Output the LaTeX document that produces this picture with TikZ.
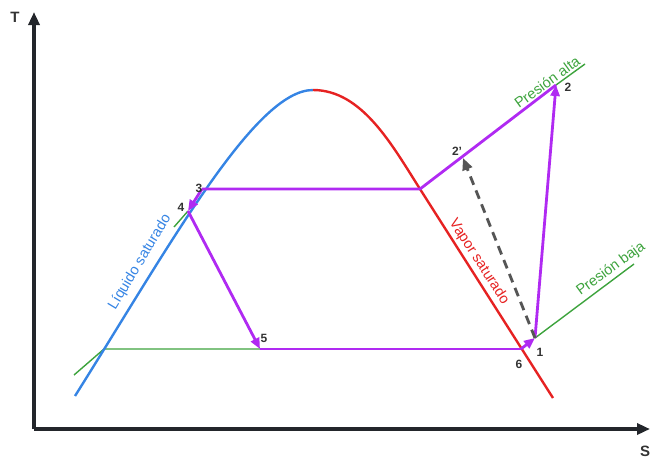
\documentclass[tikz,border=0pt]{standalone}
\usepackage{fontspec}
\setmainfont{Liberation Sans}
\usetikzlibrary{arrows.meta}
\definecolor{axc}{HTML}{23262B}
\definecolor{liqc}{HTML}{3584E4}
\definecolor{vapc}{HTML}{E62222}
\definecolor{isoc}{HTML}{3DA33D}
\definecolor{procc}{HTML}{B02AF2}
\definecolor{dashc}{HTML}{555555}
\definecolor{labc}{HTML}{333333}
\tikzset{
  axis/.style={draw=axc,line width=3.5pt,-{Triangle[length=13pt,width=11pt]}},
  liq/.style={draw=liqc,line width=2.4pt},
  vap/.style={draw=vapc,line width=2.4pt},
  iso/.style={draw=isoc,line width=1.4pt},
  proc/.style={draw=procc,line width=2.8pt},
  procarr/.style={proc,-{Triangle[length=11pt,width=9pt]}},
  dasharr/.style={draw=dashc,line width=2.8pt,dash pattern=on 9pt off 6pt,-{Triangle[length=12pt,width=10pt]}},
  ptlab/.style={text=labc,font=\bfseries\fontsize{12}{12}\selectfont,inner sep=0pt},
  axlab/.style={text=labc,font=\bfseries\fontsize{15}{15}\selectfont,inner sep=0pt},
  curvelab/.style={font=\fontsize{14.5}{14.5}\selectfont,inner sep=0pt}
}
\begin{document}
\begin{tikzpicture}[x=1pt,y=-1pt]
\useasboundingbox (0,0) rectangle (651,459);
% key points
\coordinate (O) at (34,429);
\coordinate (Ttop) at (34,12);
\coordinate (Send) at (650,429);
\coordinate (peak) at (313,90);
\coordinate (liqstart) at (75,396);
\coordinate (vapend) at (553,398);
\coordinate (vapknee) at (420,189);
\coordinate (p3) at (202,189);
\coordinate (p4) at (188,211);
\coordinate (p5) at (260,349);
\coordinate (p6) at (521,349);
\coordinate (p1) at (535,338);
\coordinate (p2) at (556,85);
\coordinate (p2p) at (463,158);
\coordinate (lowliq) at (104,349);
\coordinate (lowisoL) at (74,375);
\coordinate (lowisoR) at (634,264);
\coordinate (highisoR) at (585,64);
\coordinate (highisoA) at (174,227);
% axes
\draw[axis] (O) -- (Ttop);
\draw[axis] (O) -- (Send);
\node[axlab] (T) at (15,17) {T};
\node[axlab] (S) at (645,451) {S};
% isobars (green)
\draw[iso] (lowisoL) -- (lowliq) -- (p5);
\draw[iso] (p1) -- (lowisoR);
\draw[iso] (p2) -- (highisoR);
\draw[iso] (highisoA) -- (p4);
% saturation dome
\draw[liq] (liqstart) .. controls (170,245) and (255,90) .. (peak);
\draw[vap] (peak) .. controls (362,90) and (392,145) .. (vapknee) -- (vapend);
% process lines
\draw[proc] (p3) -- (vapknee) -- (p2);
\draw[proc] (p5) -- (p6);
\draw[procarr] (p1) -- (p2);
\draw[procarr] (p3) -- (p4);
\draw[procarr] (p4) -- (p5);
\draw[procarr] (p6) -- (p1);
\draw[dasharr] (p1) -- (p2p);
% point labels
\node[ptlab] (l1) at (540,352) {1};
\node[ptlab] (l2) at (568,87) {2};
\node[ptlab] (l2p) at (457,151) {2'};
\node[ptlab] (l3) at (199,188) {3};
\node[ptlab] (l4) at (181,207) {4};
\node[ptlab] (l5) at (264,338) {5};
\node[ptlab] (l6) at (519,364) {6};
% curve labels
\node[curvelab,text=liqc,rotate=59] (liqlab) at (140,262) {Líquido saturado};
\node[curvelab,text=vapc,rotate=-57] (vaplab) at (479,262) {Vapor saturado};
\node[curvelab,text=isoc,rotate=36] (altalab) at (547,82) {Presión alta};
\node[curvelab,text=isoc,rotate=36] (bajalab) at (611,269) {Presión baja};
\end{tikzpicture}
\end{document}
